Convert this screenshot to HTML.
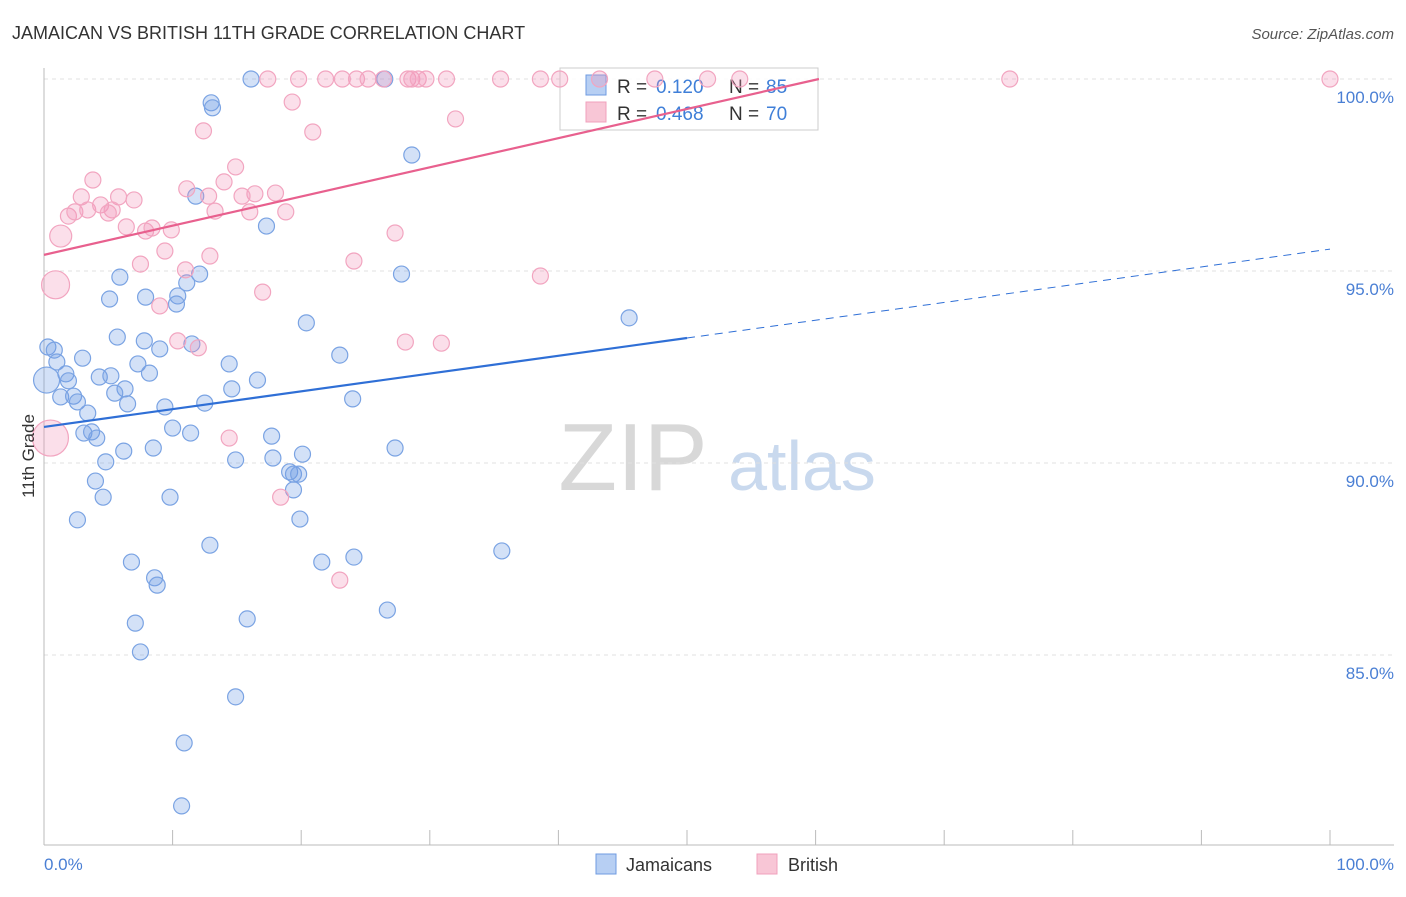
<!DOCTYPE html>
<html><head><meta charset="utf-8"><style>
body{margin:0;background:#fff;font-family:"Liberation Sans",sans-serif;}
svg text{font-family:"Liberation Sans",sans-serif;}
</style></head><body>
<svg id="chart" width="1406" height="892" viewBox="0 0 1406 892" xmlns="http://www.w3.org/2000/svg">
<text x="12" y="39" font-size="18" fill="#333">JAMAICAN VS BRITISH 11TH GRADE CORRELATION CHART</text>
<text x="1394" y="39" font-size="15" fill="#555" text-anchor="end" font-style="italic">Source: ZipAtlas.com</text>
<g>
<text x="633" y="490" font-size="96" fill="#d8d8d8" text-anchor="middle" font-family="Liberation Serif, serif">ZIP</text>
<text x="802" y="490" font-size="70" fill="#c9d9ee" text-anchor="middle">atlas</text>
</g>
<g id="grid"></g>
<g id="axes"></g>
<g>
<rect x="560" y="68" width="258" height="62" fill="#fff" fill-opacity="0.85" stroke="#ccc"/>
<rect x="586" y="75" width="20" height="20" fill="#b7cff3" stroke="#6f9be0"/>
<text x="617" y="93" font-size="19" fill="#333">R =</text>
<text x="656" y="93" font-size="19" fill="#3f7fd8">0.120</text>
<text x="729" y="93" font-size="19" fill="#333">N =</text>
<text x="766" y="93" font-size="19" fill="#3f7fd8">85</text>
<rect x="586" y="102" width="20" height="20" fill="#f8c6d6" stroke="#f0a0bc"/>
<text x="617" y="120" font-size="19" fill="#333">R =</text>
<text x="656" y="120" font-size="19" fill="#3f7fd8">0.468</text>
<text x="729" y="120" font-size="19" fill="#333">N =</text>
<text x="766" y="120" font-size="19" fill="#3f7fd8">70</text>
</g>
<g id="marks"></g>
<g id="trend"></g>
<text transform="translate(34,456) rotate(-90)" font-size="17" fill="#333" text-anchor="middle">11th Grade</text>
<text x="44" y="870" font-size="17" fill="#4a7fd4">0.0%</text>
<text x="1394" y="870" font-size="17" fill="#4a7fd4" text-anchor="end">100.0%</text>
<g>
<rect x="596" y="854" width="20" height="20" fill="#b7cff3" stroke="#6f9be0"/>
<text x="626" y="871" font-size="18" fill="#333">Jamaicans</text>
<rect x="757" y="854" width="20" height="20" fill="#f8c6d6" stroke="#f0a0bc"/>
<text x="788" y="871" font-size="18" fill="#333">British</text>
</g>
</svg>
<script>
const yTicks=[100,95,90,85];
const yTickLabels=["100.0%","95.0%","90.0%","85.0%"];
const xTicks=[0,10,20,30,40,50,60,70,80,90,100];
const blueX=[16.1,26.5,13.0,13.1,28.6,11.8,17.3,5.9,12.1,27.8,11.1,5.1,7.9,10.4,10.3,20.4,45.5,0.3,0.8,5.7,7.8,9.0,11.5,3.0,1.0,7.3,14.4,23.0,1.7,1.9,4.3,5.2,8.2,16.6,6.3,5.5,14.6,1.3,2.3,2.6,6.5,12.5,24.0,9.4,3.4,3.1,3.7,4.1,10.0,11.4,17.7,6.2,8.5,27.3,14.9,4.8,17.8,20.1,19.1,19.4,19.8,4.0,19.4,4.6,9.8,2.6,19.9,12.9,35.6,6.8,21.6,24.1,8.6,8.8,26.7,7.1,15.8,7.5,14.9,10.9,10.7,0.2];
const blueY=[100,100,99.38,99.25,98.02,96.95,96.17,94.84,94.92,94.92,94.69,94.27,94.32,94.35,94.14,93.65,93.78,93.02,92.94,93.28,93.18,92.97,93.10,92.73,92.63,92.58,92.58,92.81,92.32,92.14,92.24,92.27,92.34,92.16,91.93,91.82,91.93,91.72,91.74,91.59,91.54,91.56,91.67,91.46,91.30,90.78,90.81,90.65,90.91,90.78,90.70,90.31,90.39,90.39,90.08,90.03,90.13,90.23,89.77,89.71,89.71,89.53,89.30,89.11,89.11,88.52,88.54,87.86,87.71,87.42,87.42,87.55,87.01,86.82,86.17,85.83,85.94,85.08,83.91,82.71,81.07,92.16];
const blueR=blueX.map((v,i)=>i===blueX.length-1?13:8);
const pinkX=[17.4,19.8,21.9,23.2,24.3,25.2,26.4,28.3,28.6,29.1,29.7,31.3,35.5,38.6,40.1,43.2,47.5,51.6,54.1,75.1,100,19.3,32.0,12.4,20.9,3.8,14.9,14.0,11.1,2.9,5.8,7.0,12.8,16.4,18.0,15.4,1.9,2.4,3.4,4.4,5.3,5.0,13.3,16.0,18.8,6.4,7.9,8.4,9.9,1.3,27.3,9.4,12.9,7.5,11.0,24.1,38.6,0.9,17.0,9.0,10.4,12.0,28.1,30.9,14.4,0.5,18.4,23.0];
const pinkY=[100,100,100,100,100,100,100,100,100,100,100,100,100,100,100,100,100,100,100,100,100,99.40,98.96,98.65,98.62,97.37,97.71,97.32,97.14,96.93,96.93,96.85,96.95,97.01,97.03,96.95,96.43,96.54,96.59,96.72,96.59,96.51,96.56,96.54,96.54,96.15,96.04,96.12,96.07,95.91,95.99,95.52,95.39,95.18,95.03,95.26,94.87,94.64,94.45,94.09,93.18,93.0,93.15,93.12,90.65,90.65,89.11,86.95];
const pinkSizes=[8,8,8,8,8,8,8,8,8,8,8,8,8,8,8,8,8,8,8,8,8,8,8,8,8,8,8,8,8,8,8,8,8,8,8,8,8,8,8,8,8,8,8,8,8,8,8,8,8,11,8,8,8,8,8,8,8,14,8,8,8,8,8,8,8,18,8,8];
const blueTrend=[90.94,0.0463];
const pinkTrend=[95.42,0.076];
const NS="http://www.w3.org/2000/svg";
const X=v=>44+v*12.86;
const Y=v=>79+(100-v)*38.4;
function mk(tag,attrs,parent){const e=document.createElementNS(NS,tag);for(const k in attrs)e.setAttribute(k,attrs[k]);parent.appendChild(e);return e;}
const grid=document.getElementById('grid'),axes=document.getElementById('axes'),marks=document.getElementById('marks'),trend=document.getElementById('trend');
yTicks.forEach((t,i)=>{
 const l=mk('line',{x1:44,x2:1394,y1:Y(t),y2:Y(t),stroke:'#e0e0e0','stroke-dasharray':'4,4'},grid);
 
 
 const tx=mk('text',{x:1394,y:Y(t)+24,'font-size':17,fill:'#4a7fd4','text-anchor':'end'},axes);
 tx.textContent=yTickLabels[i];
 
 
});
const ya=mk('line',{x1:44,x2:44,y1:68,y2:845,stroke:'#bbb'},axes);


const xa=mk('line',{x1:44,x2:1394,y1:845,y2:845,stroke:'#bbb'},axes);


xTicks.forEach(t=>{
 const tk=mk('line',{x1:X(t),x2:X(t),y1:830,y2:845,stroke:'#bbb'},axes);
 
 
});
blueX.forEach((v,i)=>{
 const c=mk('circle',{cx:X(v),cy:Y(blueY[i]),r:blueR[i],fill:'rgba(110,155,230,0.3)',stroke:'#7aa3e3','stroke-width':1.2},marks);
 
 
});
pinkX.forEach((v,i)=>{
 const c=mk('circle',{cx:X(v),cy:Y(pinkY[i]),r:pinkSizes[i],fill:'rgba(242,150,185,0.3)',stroke:'#f2a5c0','stroke-width':1.2},marks);
 
 
});
const b1=mk('line',{x1:X(0),y1:Y(blueTrend[0]),x2:X(50),y2:Y(blueTrend[0]+blueTrend[1]*50),stroke:'#2f6fd6','stroke-width':2.2},trend);


const b2=mk('line',{x1:X(50),y1:Y(blueTrend[0]+blueTrend[1]*50),x2:X(100),y2:Y(blueTrend[0]+blueTrend[1]*100),stroke:'#2f6fd6','stroke-width':1,'stroke-dasharray':'8,6'},trend);


const pEnd=(100-pinkTrend[0])/pinkTrend[1];
const p1=mk('line',{x1:X(0),y1:Y(pinkTrend[0]),x2:X(pEnd),y2:Y(100),stroke:'#e8608e','stroke-width':2.2},trend);


</script>
</body></html>
